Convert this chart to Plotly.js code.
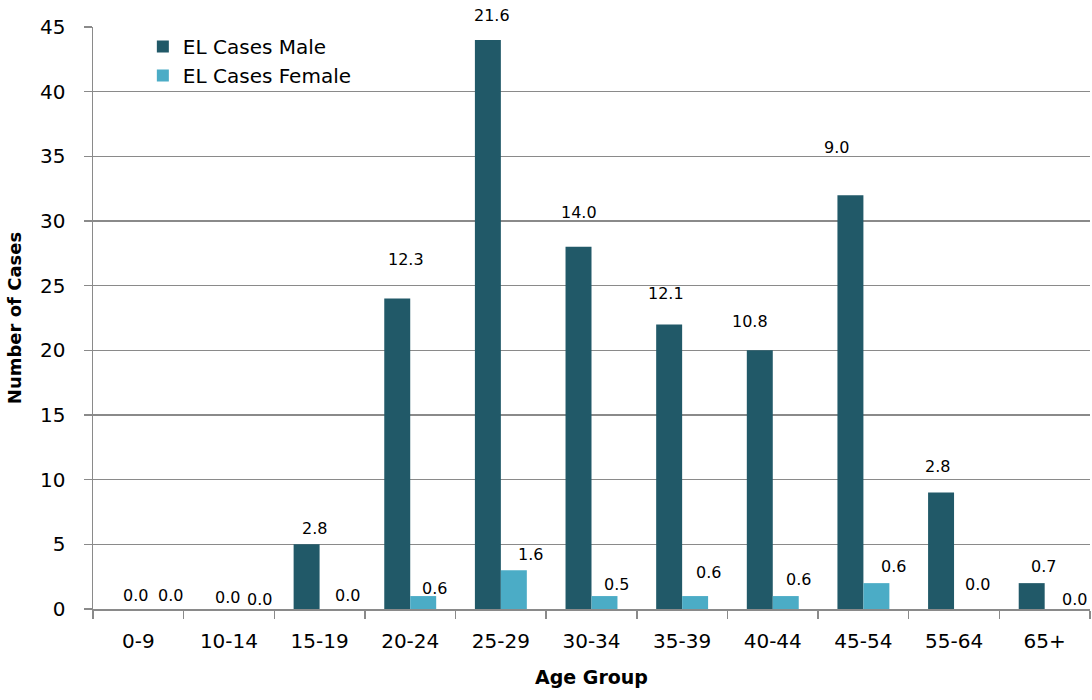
<!DOCTYPE html>
<html>
<head>
<meta charset="utf-8">
<script src="https://cdn.plot.ly/plotly-3.0.1.min.js"></script>
<style>
  html, body { margin: 0; padding: 0; background: #ffffff; }
  #chart { width: 1092px; height: 700px; }
</style>
</head>
<body>
<div id="chart"></div>
<script>
// Age groups on the category axis
const ageGroups = ['0-9', '10-14', '15-19', '20-24', '25-29', '30-34', '35-39', '40-44', '45-54', '55-64', '65+'];

// Number of cases per age group
const casesMale   = [0, 0, 5, 24, 44, 28, 22, 20, 32, 9, 2];
const casesFemale = [0, 0, 0, 1, 3, 1, 1, 1, 2, 0, 0];

// Rates printed above each bar
const rateMale   = [0.0, 0.0, 2.8, 12.3, 21.6, 14.0, 12.1, 10.8, 9.0, 2.8, 0.7];
const rateFemale = [0.0, 0.0, 0.0, 0.6, 1.6, 0.5, 0.6, 0.6, 0.6, 0.0, 0.0];

// Pixel nudges for the rate labels (relative to category centre / bar top)
const maleDx   = [-3, -1, -5, -4, -9, -13, -16, -23, -27, -17, -1];
const maleDy   = [14, 12, 16, 39, 24, 34, 31, 29, 48, 26, 17];
const femaleDx = [32, 31, 28, 24, 30, 25, 26, 26, 30, 23, 30];
const femaleDy = [14, 10, 14, 8, 16, 12, 24, 17, 17, 25, 10];

const COLOR_MALE = '#215968';
const COLOR_FEMALE = '#4BACC6';
const GRID = '#8a8a8a';
const INK = '#000000';
const FONT = 'DejaVu Sans, Open Sans, sans-serif';

const traces = [
  { type: 'bar', name: 'EL Cases Male', x: ageGroups, y: casesMale,
    marker: { color: COLOR_MALE }, hoverinfo: 'x+y' },
  { type: 'bar', name: 'EL Cases Female', x: ageGroups, y: casesFemale,
    marker: { color: COLOR_FEMALE }, hoverinfo: 'x+y' }
];

const labelFont = { family: FONT, size: 16, color: INK };
const annotations = [];
ageGroups.forEach((g, i) => {
  annotations.push({ x: g, y: casesMale[i], xref: 'x', yref: 'y',
    text: rateMale[i].toFixed(1), showarrow: false, font: labelFont,
    xanchor: 'center', yanchor: 'middle', xshift: maleDx[i], yshift: maleDy[i] });
  annotations.push({ x: g, y: casesFemale[i], xref: 'x', yref: 'y',
    text: rateFemale[i].toFixed(1), showarrow: false, font: labelFont,
    xanchor: 'center', yanchor: 'middle', xshift: femaleDx[i], yshift: femaleDy[i] });
});

const layout = {
  width: 1092, height: 700,
  margin: { l: 93, r: 2, t: 27, b: 91 },
  paper_bgcolor: '#ffffff', plot_bgcolor: '#ffffff',
  font: { family: FONT, color: INK },
  barmode: 'group', bargap: 0.427, bargroupgap: 0,
  showlegend: true,
  legend: { x: 0.05, y: 1.0, xanchor: 'left', yanchor: 'top',
    font: { family: FONT, size: 20, color: INK },
    bgcolor: 'rgba(0,0,0,0)', tracegroupgap: 0, itemsizing: 'constant' },
  xaxis: {
    type: 'category', tickson: 'boundaries',
    ticks: 'outside', ticklen: 8, tickcolor: GRID, tickwidth: 1.5,
    showline: true, linecolor: GRID, linewidth: 1.5,
    showgrid: false, zeroline: false,
    tickfont: { family: FONT, size: 20, color: INK },
    ticklabelstandoff: 13,
    title: { text: 'Age Group', font: { family: FONT, size: 19, color: INK, weight: 'bold' }, standoff: 19 }
  },
  yaxis: {
    range: [0, 45], dtick: 5, tick0: 0,
    ticks: 'outside', ticklen: 8, tickcolor: GRID, tickwidth: 1.5,
    showline: true, linecolor: GRID, linewidth: 1.5,
    showgrid: true, gridcolor: GRID, gridwidth: 1.5, zeroline: false,
    tickfont: { family: FONT, size: 20, color: INK },
    ticklabelstandoff: 14,
    title: { text: 'Number of Cases', font: { family: FONT, size: 18, color: INK, weight: 'bold' }, standoff: 13 }
  },
  annotations: annotations
};

Plotly.newPlot('chart', traces, layout, { displayModeBar: false, staticPlot: true });
</script>
</body>
</html>
